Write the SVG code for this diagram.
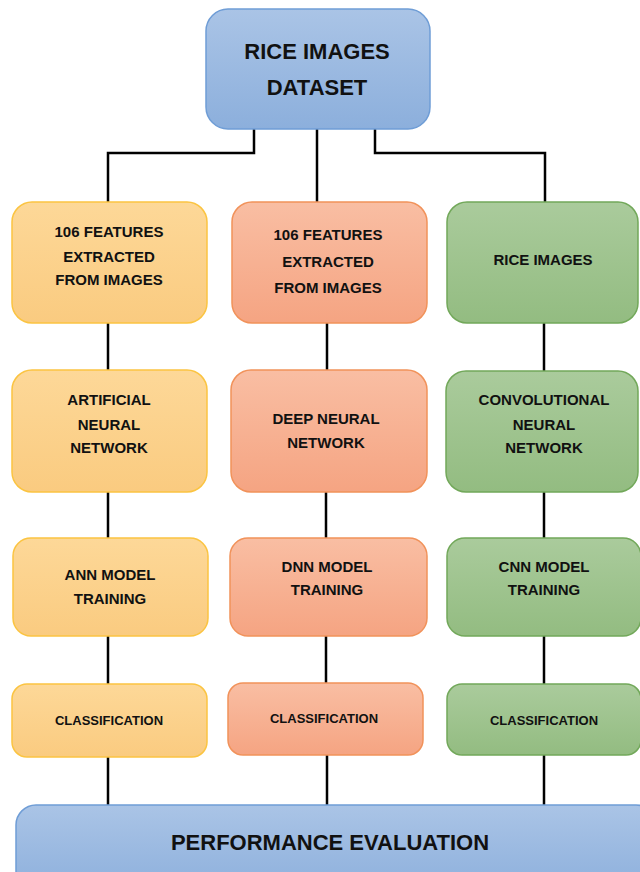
<svg xmlns="http://www.w3.org/2000/svg" width="640" height="872" viewBox="0 0 640 872">
<defs>
<linearGradient id="gBlue" x1="0" y1="0" x2="0" y2="1"><stop offset="0" stop-color="#aac4e6"/><stop offset="1" stop-color="#8cafdc"/></linearGradient>
<linearGradient id="gOrange" x1="0" y1="0" x2="0" y2="1"><stop offset="0" stop-color="#fdd898"/><stop offset="1" stop-color="#facb80"/></linearGradient>
<linearGradient id="gSalmon" x1="0" y1="0" x2="0" y2="1"><stop offset="0" stop-color="#f9bea3"/><stop offset="1" stop-color="#f5a482"/></linearGradient>
<linearGradient id="gGreen" x1="0" y1="0" x2="0" y2="1"><stop offset="0" stop-color="#aacb9c"/><stop offset="1" stop-color="#93bc81"/></linearGradient>
</defs>
<style>
.blue{fill:url(#gBlue);stroke:#6f9dd6;stroke-width:1.5}
.orange{fill:url(#gOrange);stroke:#fbc441;stroke-width:1.5}
.salmon{fill:url(#gSalmon);stroke:#f1925a;stroke-width:1.5}
.green{fill:url(#gGreen);stroke:#72a85a;stroke-width:1.5}
text{font-family:"Liberation Sans",Arial,sans-serif;font-weight:bold;fill:#111;text-anchor:middle}
.t{font-size:15px}
.s{font-size:13px}
.big{font-size:22px}
.conn{fill:none;stroke:#000;stroke-width:2.5}
</style>
<rect width="640" height="872" fill="#fff"/>
<g id="connectors" class="conn">
<path d="M254 129 V153 H108 V202"/>
<path d="M317 129 V202"/>
<path d="M375 129 V153 H545 V202"/>
<path d="M108 323 V370 M108 492 V538 M108 636 V684 M108 757 V805"/>
<path d="M327 323 V370 M326 492 V538 M326 636 V683 M327 755 V805"/>
<path d="M544 323 V371 M544 492 V538 M544 636 V684 M544 755 V805"/>
</g>
<g id="dataset"><rect class="blue" x="206" y="9" width="224" height="120" rx="22"/><text class="big" x="317" y="59">RICE IMAGES</text><text class="big" x="317" y="95">DATASET</text></g>
<g id="ann_features"><rect class="orange" x="12" y="202" width="195" height="121" rx="20"/><text class="t" x="109" y="237">106 FEATURES</text><text class="t" x="109" y="262">EXTRACTED</text><text class="t" x="109" y="285">FROM IMAGES</text></g>
<g id="dnn_features"><rect class="salmon" x="232" y="202" width="195" height="121" rx="20"/><text class="t" x="328" y="240">106 FEATURES</text><text class="t" x="328" y="267">EXTRACTED</text><text class="t" x="328" y="293">FROM IMAGES</text></g>
<g id="cnn_images"><rect class="green" x="447" y="202" width="191" height="121" rx="20"/><text class="t" x="543" y="265">RICE IMAGES</text></g>
<g id="ann"><rect class="orange" x="12" y="370" width="195" height="122" rx="20"/><text class="t" x="109" y="405">ARTIFICIAL</text><text class="t" x="109" y="430">NEURAL</text><text class="t" x="109" y="453">NETWORK</text></g>
<g id="dnn"><rect class="salmon" x="231" y="370" width="196" height="122" rx="20"/><text class="t" x="326" y="424">DEEP NEURAL</text><text class="t" x="326" y="448">NETWORK</text></g>
<g id="cnn"><rect class="green" x="446" y="371" width="192" height="121" rx="20"/><text class="t" x="544" y="405">CONVOLUTIONAL</text><text class="t" x="544" y="430">NEURAL</text><text class="t" x="544" y="453">NETWORK</text></g>
<g id="ann_training"><rect class="orange" x="13" y="538" width="195" height="98" rx="18"/><text class="t" x="110" y="580">ANN MODEL</text><text class="t" x="110" y="604">TRAINING</text></g>
<g id="dnn_training"><rect class="salmon" x="230" y="538" width="197" height="98" rx="18"/><text class="t" x="327" y="572">DNN MODEL</text><text class="t" x="327" y="595">TRAINING</text></g>
<g id="cnn_training"><rect class="green" x="447" y="538" width="194" height="98" rx="18"/><text class="t" x="544" y="572">CNN MODEL</text><text class="t" x="544" y="595">TRAINING</text></g>
<g id="ann_class"><rect class="orange" x="12" y="684" width="195" height="73" rx="15"/><text class="s" x="109" y="724.5">CLASSIFICATION</text></g>
<g id="dnn_class"><rect class="salmon" x="228" y="683" width="195" height="72" rx="15"/><text class="s" x="324" y="722.5">CLASSIFICATION</text></g>
<g id="cnn_class"><rect class="green" x="447" y="684" width="194" height="71" rx="15"/><text class="s" x="544" y="724.5">CLASSIFICATION</text></g>
<g id="performance"><rect class="blue" x="16" y="805" width="640" height="90" rx="20"/><text class="big" x="330" y="849.5">PERFORMANCE EVALUATION</text></g>
</svg>
